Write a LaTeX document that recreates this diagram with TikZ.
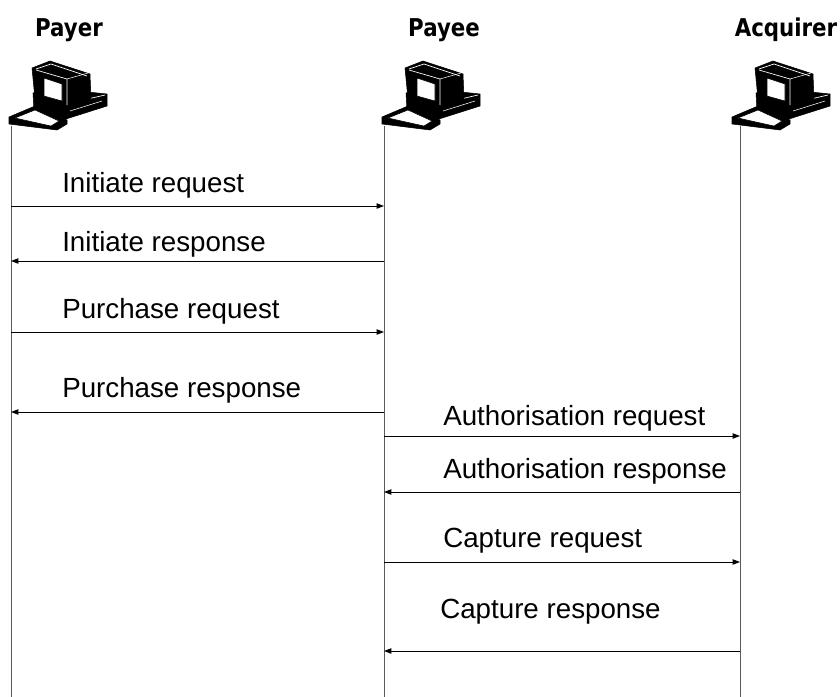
\documentclass[tikz,border=0pt]{standalone}
\usepackage{fontspec}
\setmainfont{Liberation Sans}
\newfontfamily\headfont{DejaVu Sans}
\usetikzlibrary{arrows.meta}
\def\computer(#1){%
	\begin{scope}[shift={(#1,0)}]
		\draw[fill=black] (33, 93) -- (50, 88) -- (107, 94) -- (107, 106) -- (66, 119) -- (34, 110) -- cycle;
		\draw[white, line width=0.5pt] (35, 96) -- (66, 104) -- (105, 95);
		\draw[white, line width=0.4pt] (70, 111) -- (102, 101);
		\draw[fill=black] (32, 68) -- (50, 61) -- (90, 74) -- (91, 100) -- (67, 107) -- (35, 99) -- cycle;
		\draw[white, line width=0.5pt] (36, 69) -- (51, 64) -- (87, 76);
		\draw[white, line width=0.5pt] (36, 70) -- (67, 79) -- (67, 105);
		\draw[white, line width=0.4pt] (67, 79) -- (88, 73);
		\draw[fill=white] (44, 78) -- (62, 84) -- (62, 101) -- (44, 96) -- cycle;
		\draw[fill=black] (9, 117) -- (35, 106) -- (67, 120) -- (67, 124) -- (57, 130) -- (9, 124) -- cycle;
		\draw[fill=white] (15, 118) -- (35, 110) -- (59, 121) -- (51, 126) -- cycle;
	\end{scope}}

\begin{document}
\begin{tikzpicture}[x=0.75pt, y=-0.75pt,
		lifeline/.style={line width=0.75pt, color=black!65},
		msg/.style={line width=0.75pt, -{Triangle[length=5.5pt, width=4pt]}},
		head/.style={inner sep=0pt, anchor=base, font=\headfont\bfseries\fontsize{16}{19}\selectfont},
		label/.style={inner sep=0pt, anchor=base west, font=\fontsize{20.8}{25}\selectfont}]
	%%%%% START %%%%%
	\useasboundingbox (0, 0) rectangle (840, 697);
	
	\node[head] (payer) at (69, 36) {\scalebox{1}[1.15]{Payer}};
	\node[head] (payee) at (444, 36) {\scalebox{1}[1.15]{Payee}};
	\node[head] (acquirer) at (786, 36) {\scalebox{1}[1.15]{Acquirer}};
	
	\computer(0)
	\computer(373)
	\computer(723)
	
	\coordinate (payer-top) at (11, 126);
	\coordinate (payee-top) at (384, 126);
	\coordinate (acquirer-top) at (740, 126);
	\coordinate (payer-end) at (11, 697);
	\coordinate (payee-end) at (384, 697);
	\coordinate (acquirer-end) at (740, 697);
	
	\draw[lifeline] (payer-top) -- (payer-end);
	\draw[lifeline] (payee-top) -- (payee-end);
	\draw[lifeline] (acquirer-top) -- (acquirer-end);
	
	\node[label] (initreq) at (62, 192) {Initiate request};
	\draw[msg] (payer-top |- 0,206) -- (payee-top |- 0,206);
	
	\node[label] (initresp) at (62, 251) {Initiate response};
	\draw[msg] (payee-top |- 0,261) -- (payer-top |- 0,261);
	
	\node[label] (purchreq) at (62, 318) {Purchase request};
	\draw[msg] (payer-top |- 0,332) -- (payee-top |- 0,332);
	
	\node[label] (purchresp) at (62, 397) {Purchase response};
	\draw[msg] (payee-top |- 0,412) -- (payer-top |- 0,412);
	
	\node[label] (authreq) at (443, 425) {Authorisation request};
	\draw[msg] (payee-top |- 0,436) -- (acquirer-top |- 0,436);
	
	\node[label] (authresp) at (443, 478) {Authorisation response};
	\draw[msg] (acquirer-top |- 0,492) -- (payee-top |- 0,492);
	
	\node[label] (captreq) at (443, 547) {Capture request};
	\draw[msg] (payee-top |- 0,562) -- (acquirer-top |- 0,562);
	
	\node[label] (captresp) at (440, 618) {Capture response};
	\draw[msg] (acquirer-top |- 0,651) -- (payee-top |- 0,651);
	
	%%%%% END %%%%%
\end{tikzpicture}
\end{document}
